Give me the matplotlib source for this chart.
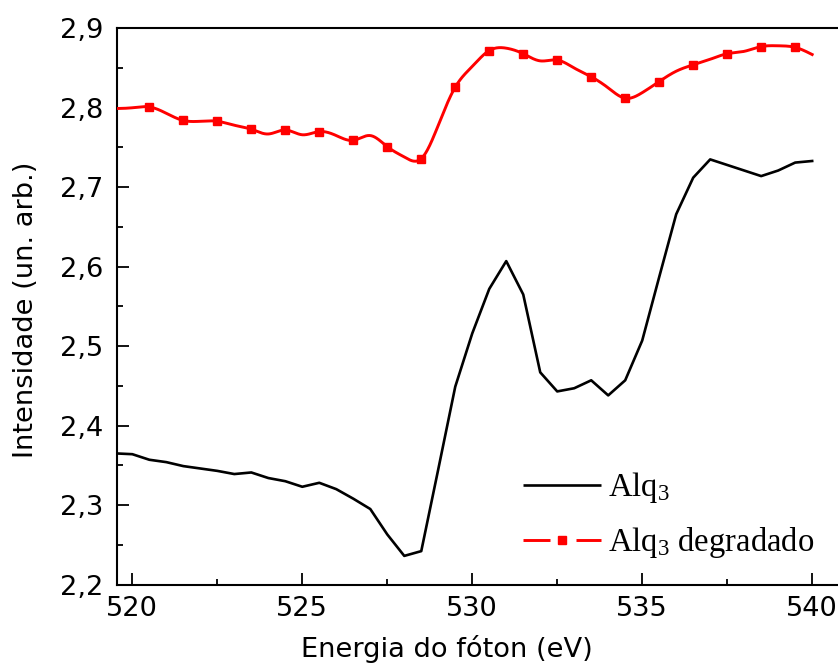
import numpy as np
import matplotlib
matplotlib.use("Agg")
import matplotlib.pyplot as plt
from matplotlib.lines import Line2D
from matplotlib.legend_handler import HandlerBase
from matplotlib.ticker import MultipleLocator, FixedLocator

plt.rcParams['mathtext.fontset'] = 'custom'
plt.rcParams['mathtext.rm'] = 'Liberation Serif'
plt.rcParams['mathtext.it'] = 'Liberation Serif:italic'

energy = [519.5, 520.0, 520.5, 521.0, 521.5, 522.0, 522.5, 523.0, 523.5, 524.0,
          524.5, 525.0, 525.5, 526.0, 526.5, 527.0, 527.5, 528.0, 528.5, 529.0,
          529.5, 530.0, 530.5, 531.0, 531.5, 532.0, 532.5, 533.0, 533.5, 534.0,
          534.5, 535.0, 535.5, 536.0, 536.5, 537.0, 537.5, 538.0, 538.5, 539.0,
          539.5, 540.0]

alq3 = [2.365, 2.364, 2.357, 2.354, 2.349, 2.346, 2.343, 2.339, 2.341, 2.334,
        2.330, 2.323, 2.328, 2.320, 2.308, 2.295, 2.263, 2.236, 2.242, 2.345,
        2.449, 2.516, 2.572, 2.607, 2.565, 2.467, 2.443, 2.447, 2.457, 2.438,
        2.457, 2.507, 2.587, 2.666, 2.712, 2.735, 2.728, 2.721, 2.714, 2.721,
        2.731, 2.733]

alq3_deg = [2.799, 2.800, 2.801, 2.793, 2.784, 2.783, 2.783, 2.778, 2.773, 2.767,
            2.772, 2.766, 2.770, 2.765, 2.759, 2.765, 2.751, 2.738, 2.736, 2.778,
            2.826, 2.852, 2.872, 2.875, 2.868, 2.859, 2.860, 2.850, 2.839, 2.825,
            2.812, 2.819, 2.833, 2.846, 2.854, 2.861, 2.868, 2.871, 2.877, 2.878,
            2.876, 2.867]

xticks = [520, 525, 530, 535, 540]
xtick_labels = ["520", "525", "530", "535", "540"]
yticks = [2.2, 2.3, 2.4, 2.5, 2.6, 2.7, 2.8, 2.9]
ytick_labels = ["2,2", "2,3", "2,4", "2,5", "2,6", "2,7", "2,8", "2,9"]

SANS = 'DejaVu Sans'
FS = 19.6


def natural_spline(x, y, n=1200):
    x = np.asarray(x, float)
    y = np.asarray(y, float)
    m = len(x)
    h = np.diff(x)
    A = np.zeros((m, m))
    b = np.zeros(m)
    A[0, 0] = 1
    A[-1, -1] = 1
    for i in range(1, m - 1):
        A[i, i - 1] = h[i - 1]
        A[i, i] = 2 * (h[i - 1] + h[i])
        A[i, i + 1] = h[i]
        b[i] = 3 * ((y[i + 1] - y[i]) / h[i] - (y[i] - y[i - 1]) / h[i - 1])
    c = np.linalg.solve(A, b)
    bb = (y[1:] - y[:-1]) / h - h * (2 * c[:-1] + c[1:]) / 3
    d = (c[1:] - c[:-1]) / (3 * h)
    xs = np.linspace(x[0], x[-1], n)
    idx = np.clip(np.searchsorted(x, xs) - 1, 0, m - 2)
    dx = xs - x[idx]
    ys = y[idx] + bb[idx] * dx + c[idx] * dx ** 2 + d[idx] * dx ** 3
    return xs, ys


W, H = 838, 663
fig = plt.figure(figsize=(W / 100, H / 100), dpi=100)
left, right, top, bottom = 116.7, 838, 28.3, 584.5
ax = fig.add_axes([left / W, 1 - bottom / H, (right - left) / W, (bottom - top) / H])

ax.plot(energy, alq3, color='black', lw=1.9, zorder=3)
xs, ys = natural_spline(energy, alq3_deg)
ax.plot(xs, ys, color='red', lw=2.1, zorder=3)
ax.plot(energy[2::2], alq3_deg[2::2], ls='none', marker='s', ms=5.2,
        color='red', zorder=4)

ax.set_xlim(519.54, 540.76)
ax.set_ylim(2.2, 2.9)
ax.xaxis.set_major_locator(FixedLocator(xticks))
ax.set_xticklabels(xtick_labels)
ax.xaxis.set_minor_locator(MultipleLocator(2.5))
ax.yaxis.set_major_locator(FixedLocator(yticks))
ax.set_yticklabels(ytick_labels)
ax.yaxis.set_minor_locator(MultipleLocator(0.05))

ax.spines['right'].set_visible(False)
for s in ['left', 'bottom', 'top']:
    ax.spines[s].set_linewidth(1.5)

ax.tick_params(which='both', direction='in', top=False, right=False, width=1.3,
               labelsize=FS)
ax.tick_params(which='major', length=8.6)
ax.tick_params(which='minor', length=4.3)
ax.tick_params(axis='y', which='major', pad=9.8)
ax.tick_params(axis='x', which='major', pad=8.0)
for lab in ax.get_xticklabels() + ax.get_yticklabels():
    lab.set_fontfamily(SANS)

fig.text(447 / W, 1 - 657 / H, "Energia do fóton (eV)", ha='center',
         va='baseline', fontsize=FS, family=SANS)
fig.text(26.5 / W, 1 - 310 / H, "Intensidade (un. arb.)", ha='center',
         va='center', rotation=90, fontsize=FS, family=SANS)


class SplitHandler(HandlerBase):
    def create_artists(self, legend, orig_handle, xdescent, ydescent, width,
                       height, fontsize, trans):
        y = height / 2 - ydescent
        x0 = -xdescent
        l1 = Line2D([x0, x0 + width * 0.345], [y, y], color='red', lw=2.1,
                    solid_capstyle='butt')
        l2 = Line2D([x0 + width * 0.68, x0 + width], [y, y], color='red',
                    lw=2.1, solid_capstyle='butt')
        mk = Line2D([x0 + width / 2], [y], ls='none', marker='s', ms=5.2,
                    color='red')
        for a in (l1, l2, mk):
            a.set_transform(trans)
        return [l1, l2, mk]


h_black = Line2D([], [], color='black', lw=1.9, solid_capstyle='butt')
h_red = Line2D([], [], color='red')
leg = ax.legend([h_black, h_red], ["Alq$_3$", "Alq$_3$ degradado"],
                handler_map={h_red: SplitHandler()},
                loc='upper left', bbox_to_anchor=(523 / W, 1 - 470 / H),
                bbox_transform=fig.transFigure, frameon=False,
                prop={'family': 'Liberation Serif', 'size': 23.5},
                handlelength=2.38, handletextpad=0.22, borderpad=0,
                borderaxespad=0, labelspacing=0.62)

fig.savefig("out.png", dpi=100)
